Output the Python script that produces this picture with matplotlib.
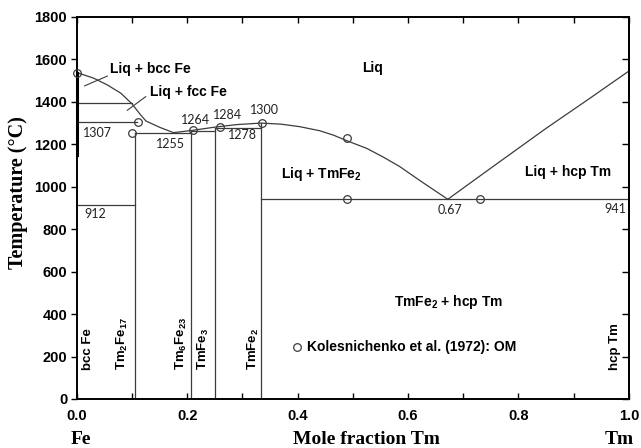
"""
Fe-Tm phase diagram with Kolesnichenko et al. (1972) thermal-analysis points.
Writes: out.png
"""
import matplotlib.pyplot as plt
from matplotlib.ticker import MultipleLocator

plt.rcParams.update({
    "font.family": "Liberation Sans",
    "font.weight": "bold",
    "mathtext.fontset": "custom",
    "mathtext.rm": "Liberation Sans:bold",
    "mathtext.it": "Liberation Sans:bold",
    "mathtext.bf": "Liberation Sans:bold",
})

LINE = "#3c3c3c"
NUM_FONT = "Lato"

# liquidus, Fe side (bcc/fcc Fe primary fields)
liq_fe_x = [0.0, 0.03, 0.055, 0.08, 0.10, 0.115, 0.125, 0.15, 0.175]
liq_fe_t = [1538, 1512, 1480, 1440, 1390, 1340, 1310, 1280, 1255]

# liquidus over the intermetallics down to the eutectic
liq_mid_x = [0.175, 0.21, 0.25, 0.29, 0.333, 0.37, 0.404, 0.44, 0.465,
             0.49, 0.525, 0.555, 0.585, 0.621, 0.645, 0.672]
liq_mid_t = [1255, 1266, 1281, 1293, 1300, 1295, 1283, 1264, 1243,
             1216, 1181, 1140, 1095, 1030, 988, 941]

# liquidus, Tm side
liq_tm_x = [0.672, 0.75, 0.85, 0.93, 1.0]
liq_tm_t = [941, 1088, 1275, 1418, 1545]

# invariant / transformation lines: (x_start, x_end, T)
horiz_lines = [
    (0.0, 0.100, 1394),
    (0.0, 0.108, 1307),
    (0.0, 0.105, 912),
    (0.105, 0.207, 1255),
    (0.207, 0.250, 1264),
    (0.250, 0.333, 1278),
    (0.333, 1.000, 941),
]

# stoichiometric compounds: (x, top T)
compounds_x = [2 / 19, 6 / 29, 0.25, 1 / 3]
compounds_top = [1255, 1264, 1278, 1300]

# Kolesnichenko et al. (1972), optical microscopy
exp_x = [0.0, 0.10, 0.11, 0.21, 0.26, 0.335, 0.49, 0.49, 0.73]
exp_t = [1538, 1253, 1305, 1266, 1282, 1300, 1228, 940, 940]

# temperature labels: (text, x, T)
temp_labels = [
    ("1307", 0.037, 1255), ("1255", 0.170, 1203), ("1264", 0.215, 1315),
    ("1284", 0.272, 1340), ("1300", 0.340, 1362), ("1278", 0.300, 1245),
    ("912", 0.033, 870), ("0.67", 0.676, 890), ("941", 0.976, 893),
]

fig = plt.figure(figsize=(6.41, 4.48), dpi=100)
ax = fig.add_axes([0.120, 0.1094, 0.861, 0.8527])

ax.plot(liq_fe_x, liq_fe_t, color=LINE, lw=0.9)
ax.plot(liq_mid_x, liq_mid_t, color=LINE, lw=0.9)
ax.plot(liq_tm_x, liq_tm_t, color=LINE, lw=0.9)
for x0, x1, t in horiz_lines:
    ax.plot([x0, x1], [t, t], color=LINE, lw=0.9)
for x, top in zip(compounds_x, compounds_top):
    ax.plot([x, x], [0, top], color=LINE, lw=0.9)
# delta/gamma Fe range sitting on the Fe axis
ax.plot([0, 0], [1150, 1538], color="black", lw=2.2, clip_on=False)

ax.plot(exp_x, exp_t, ls="none", marker="o", ms=5.5, mfc="none",
        mec=LINE, mew=0.9, clip_on=False, zorder=5)

for txt, x, t in temp_labels:
    ax.text(x, t, txt, fontsize=9, fontweight="normal", family=NUM_FONT,
            ha="center", va="center", color="#222222")

# phase field labels
ax.text(0.06, 1555, "Liq + bcc Fe", fontsize=10, ha="left", va="center")
ax.text(0.133, 1445, "Liq + fcc Fe", fontsize=10, ha="left", va="center")
ax.annotate("", xy=(0.009, 1470), xytext=(0.06, 1527),
            arrowprops=dict(arrowstyle="-", color=LINE, lw=0.8))
ax.annotate("", xy=(0.087, 1352), xytext=(0.129, 1433),
            arrowprops=dict(arrowstyle="-", color=LINE, lw=0.8))
ax.text(0.535, 1560, "Liq", fontsize=10, ha="center", va="center")
ax.text(0.37, 1058, "Liq + TmFe$_2$", fontsize=10, ha="left", va="center")
ax.text(0.89, 1070, "Liq + hcp Tm", fontsize=10, ha="center", va="center")
ax.text(0.673, 457, "TmFe$_2$ + hcp Tm", fontsize=10, ha="center", va="center")

# single-phase labels along the bottom
phase_names = ["bcc Fe", "Tm$_2$Fe$_{17}$", "Tm$_6$Fe$_{23}$", "TmFe$_3$",
               "TmFe$_2$", "hcp Tm"]
phase_x = [0.020, 0.082, 0.190, 0.230, 0.319, 0.975]
for name, x in zip(phase_names, phase_x):
    ax.text(x, 137, name, fontsize=9.5, rotation=90, ha="center", va="bottom")

# legend entry
ax.plot([0.398], [245], ls="none", marker="o", ms=5.5, mfc="none",
        mec=LINE, mew=0.9)
ax.text(0.416, 245, "Kolesnichenko et al. (1972): OM", fontsize=10,
        ha="left", va="center")

ax.set_xlim(0, 1.0)
ax.set_ylim(0, 1800)
ax.xaxis.set_major_locator(MultipleLocator(0.2))
ax.xaxis.set_minor_locator(MultipleLocator(0.1))
ax.yaxis.set_major_locator(MultipleLocator(200))
ax.tick_params(axis="x", which="both", direction="in", top=True,
               length=4, width=1, labelsize=10.5, pad=7)
ax.tick_params(axis="y", direction="out", right=False, length=4, width=1,
               labelsize=10.5, pad=3)
ax.set_xticks([0, 0.2, 0.4, 0.6, 0.8, 1.0])
ax.set_xticklabels(["0.0", "0.2", "0.4", "0.6", "0.8", "1.0"])
for s in ax.spines.values():
    s.set_linewidth(1.4)

right = ax.secondary_yaxis("right")
right.yaxis.set_major_locator(MultipleLocator(200))
right.tick_params(direction="in", length=5, width=1, labelright=False)
right.spines["right"].set_linewidth(1.4)

ax.set_ylabel("Temperature (\u00b0C)", family="Liberation Serif",
              fontsize=14.5, fontweight="bold")
ax.yaxis.set_label_coords(-0.088, 0.54)
ax.text(0.525, -0.105, "Mole fraction Tm", transform=ax.transAxes,
        family="Liberation Serif", fontsize=14, fontweight="bold",
        ha="center", va="center")
ax.text(0.008, -0.105, "Fe", transform=ax.transAxes,
        family="Liberation Serif", fontsize=14, fontweight="bold",
        ha="center", va="center")
ax.text(0.982, -0.105, "Tm", transform=ax.transAxes,
        family="Liberation Serif", fontsize=14, fontweight="bold",
        ha="center", va="center")

fig.savefig("out.png", dpi=100)
